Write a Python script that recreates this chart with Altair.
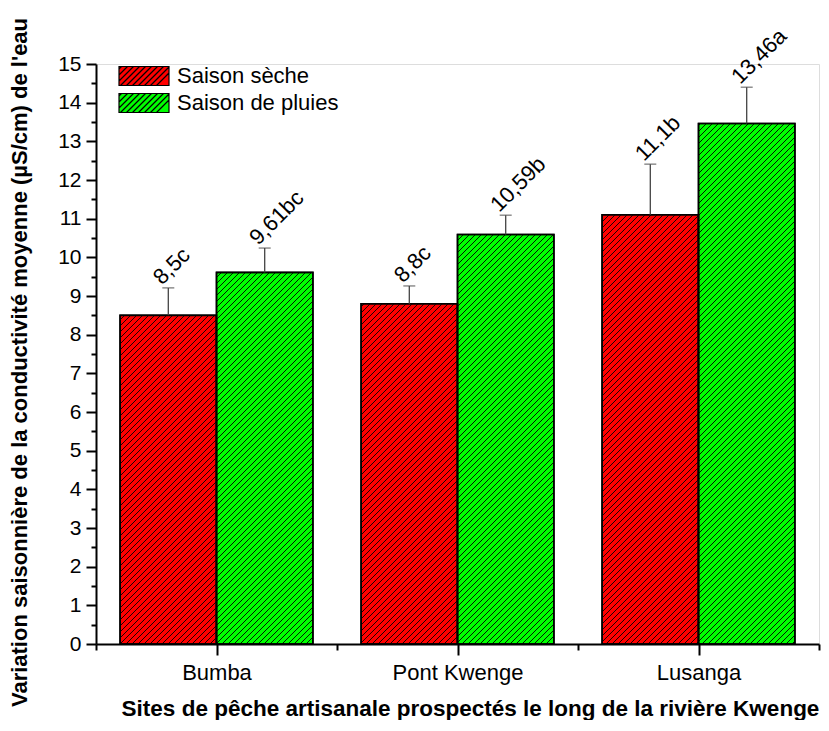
import altair as alt
import pandas as pd
import numpy as np

sites = ["Bumba", "Pont Kwenge", "Lusanga"]
saisons = ["Saison sèche", "Saison de pluies"]
seche = [8.5, 8.8, 11.1]
pluies = [9.61, 10.59, 13.46]
seche_top = [9.21, 9.26, 12.41]
pluies_top = [10.24, 11.09, 14.40]
seche_lab = ["8,5c", "8,8c", "11,1b"]
pluies_lab = ["9,61bc", "10,59b", "13,46a"]
colors = ["#ff0000", "#00ff00"]

W, H = 723, 580
XMAX, YMAX = 3, 15
kx, ky = W / XMAX, H / YMAX
FONT = "Liberation Sans"

# bars table
rows = []
for i, s in enumerate(sites):
    for j, (vals, tops, labs) in enumerate([(seche, seche_top, seche_lab), (pluies, pluies_top, pluies_lab)]):
        x0 = i + 0.1 + 0.4 * j
        rows.append(dict(site=s, saison=saisons[j], x0=x0, x1=x0 + 0.4, xc=x0 + 0.2,
                         value=vals[i], top=tops[i], label=labs[i]))
bars = pd.DataFrame(rows)

# hatch lines (45 degrees, "/"), clipped to each bar
SP = 6.0
hrows = []
for r in rows:
    Xa, Xb, Yt = r["x0"] * kx, r["x1"] * kx, r["value"] * ky
    c = np.floor((Xa - Yt) / SP) * SP
    while c < Xb:
        lo, hi = max(Xa, c), min(Xb, c + Yt)
        if hi > lo:
            hrows.append(dict(x=lo / kx, y=(lo - c) / ky, x2=hi / kx, y2=(hi - c) / ky))
        c += SP
hatch = pd.DataFrame(hrows)

# legend swatch path: rectangle 50x19 px with hatch (unit = 9.5 px)
u = 9.5
hw, hh = 25 / u, 1.0
sp = SP / u
p = [f"M{-hw:.3f},{-hh:.3f}L{hw:.3f},{-hh:.3f}L{hw:.3f},{hh:.3f}L{-hw:.3f},{hh:.3f}Z"]
c = -hw - 2 * hh
while c < hw:
    lo, hi = max(-hw, c - 1), min(hw, c + 1)
    if hi > lo:
        p.append(f"M{lo:.3f},{c - lo:.3f}L{hi:.3f},{c - hi:.3f}")
    c += sp
sym_path = "".join(p)

xscale = alt.Scale(domain=[0, XMAX], nice=False, zero=False)
yscale = alt.Scale(domain=[0, YMAX], nice=False)

x_vals = [k / 2 for k in range(0, 2 * XMAX + 1)]
y_vals = [k / 2 for k in range(0, 2 * YMAX + 1)]
site_arr = "[" + ",".join(f"'{s}'" for s in sites) + "]"

x_axis = alt.Axis(
    values=x_vals,
    labelExpr=f"datum.value % 1 == 0.5 ? {site_arr}[floor(datum.value)] : ''",
    tickSize={"condition": {"test": "datum.value % 1 == 0", "value": 6}, "value": 11},
    title="Sites de pêche artisanale prospectés le long de la rivière Kwenge",
    titleFontSize=22.5, titleFontWeight="bold", titleFont=FONT, titleColor="black",
    titleX=374, titleY=71, titleBaseline="alphabetic", titleAlign="center", titleAnchor="middle",
    labelFontSize=22, labelFont=FONT, labelColor="black", labelPadding=7,
    domainColor="black", domainWidth=2, tickColor="black", tickWidth=2, grid=False,
)
y_axis = alt.Axis(
    values=y_vals,
    labelExpr="datum.value % 1 == 0 ? format(datum.value, 'd') : ''",
    tickSize={"condition": {"test": "datum.value % 1 != 0", "value": 5}, "value": 10},
    title="Variation saisonnière de la conductivité moyenne (µS/cm) de l'eau",
    titleFontSize=22, titleFontWeight="bold", titleFont=FONT, titleColor="black",
    titleX=-77, titleY=298, titleAngle=270, titleBaseline="middle", titleAlign="center", titleAnchor="middle",
    labelFontSize=21, labelFont=FONT, labelColor="black", labelPadding=5,
    domainColor="black", domainWidth=2, tickColor="black", tickWidth=2, grid=False,
)

base = alt.Chart(bars)

bar_layer = base.mark_rect(stroke="black", strokeWidth=1.5).encode(
    x=alt.X("x0:Q", scale=xscale, axis=x_axis),
    x2="x1:Q",
    y=alt.Y("value:Q", scale=yscale, axis=y_axis),
    y2=alt.datum(0),
    fill=alt.Fill("saison:N", scale=alt.Scale(domain=saisons, range=colors),
                  legend=alt.Legend(title=None, orient="none", legendX=37, legendY=1,
                                    symbolType=sym_path, symbolSize=361,
                                    symbolStrokeColor="black", symbolStrokeWidth=1.2,
                                    symbolOpacity=1,
                                    labelFontSize=22, labelFont=FONT, labelColor="black",
                                    labelOffset=22, rowPadding=3, padding=0, labelLimit=400)),
)

hatch_layer = alt.Chart(hatch).mark_rule(color="black", strokeWidth=0.9).encode(
    x=alt.X("x:Q", scale=xscale, axis=x_axis), x2="x2:Q",
    y=alt.Y("y:Q", scale=yscale, axis=y_axis), y2="y2:Q",
)

outline = base.mark_rect(fillOpacity=0, stroke="black", strokeWidth=1.6).encode(
    x=alt.X("x0:Q", scale=xscale, axis=x_axis), x2="x1:Q",
    y=alt.Y("value:Q", scale=yscale, axis=y_axis), y2=alt.datum(0),
)

err = base.mark_rule(color="#444444", strokeWidth=1.3).encode(
    x=alt.X("xc:Q", scale=xscale, axis=x_axis),
    y=alt.Y("value:Q", scale=yscale, axis=y_axis), y2="top:Q",
)
caps = base.mark_tick(orient="horizontal", size=12, thickness=1.3, color="#444444").encode(
    x=alt.X("xc:Q", scale=xscale, axis=x_axis),
    y=alt.Y("top:Q", scale=yscale, axis=y_axis),
)
labels = base.mark_text(angle=315, align="left", baseline="middle", fontSize=22,
                        font=FONT, color="black", dx=-3, dy=-13).encode(
    x=alt.X("xc:Q", scale=xscale, axis=x_axis),
    y=alt.Y("top:Q", scale=yscale, axis=y_axis),
    text="label:N",
)

chart = alt.layer(bar_layer, hatch_layer, outline, err, caps, labels).properties(
    width=W, height=H,
    autosize=alt.AutoSizeParams(type="none"),
    padding={"left": 88, "top": 56, "right": 2, "bottom": 76},
    background="white",
).configure_view(strokeOpacity=0).configure(font=FONT)

chart.save("out.html", embed_options={"renderer": "svg", "actions": False})
